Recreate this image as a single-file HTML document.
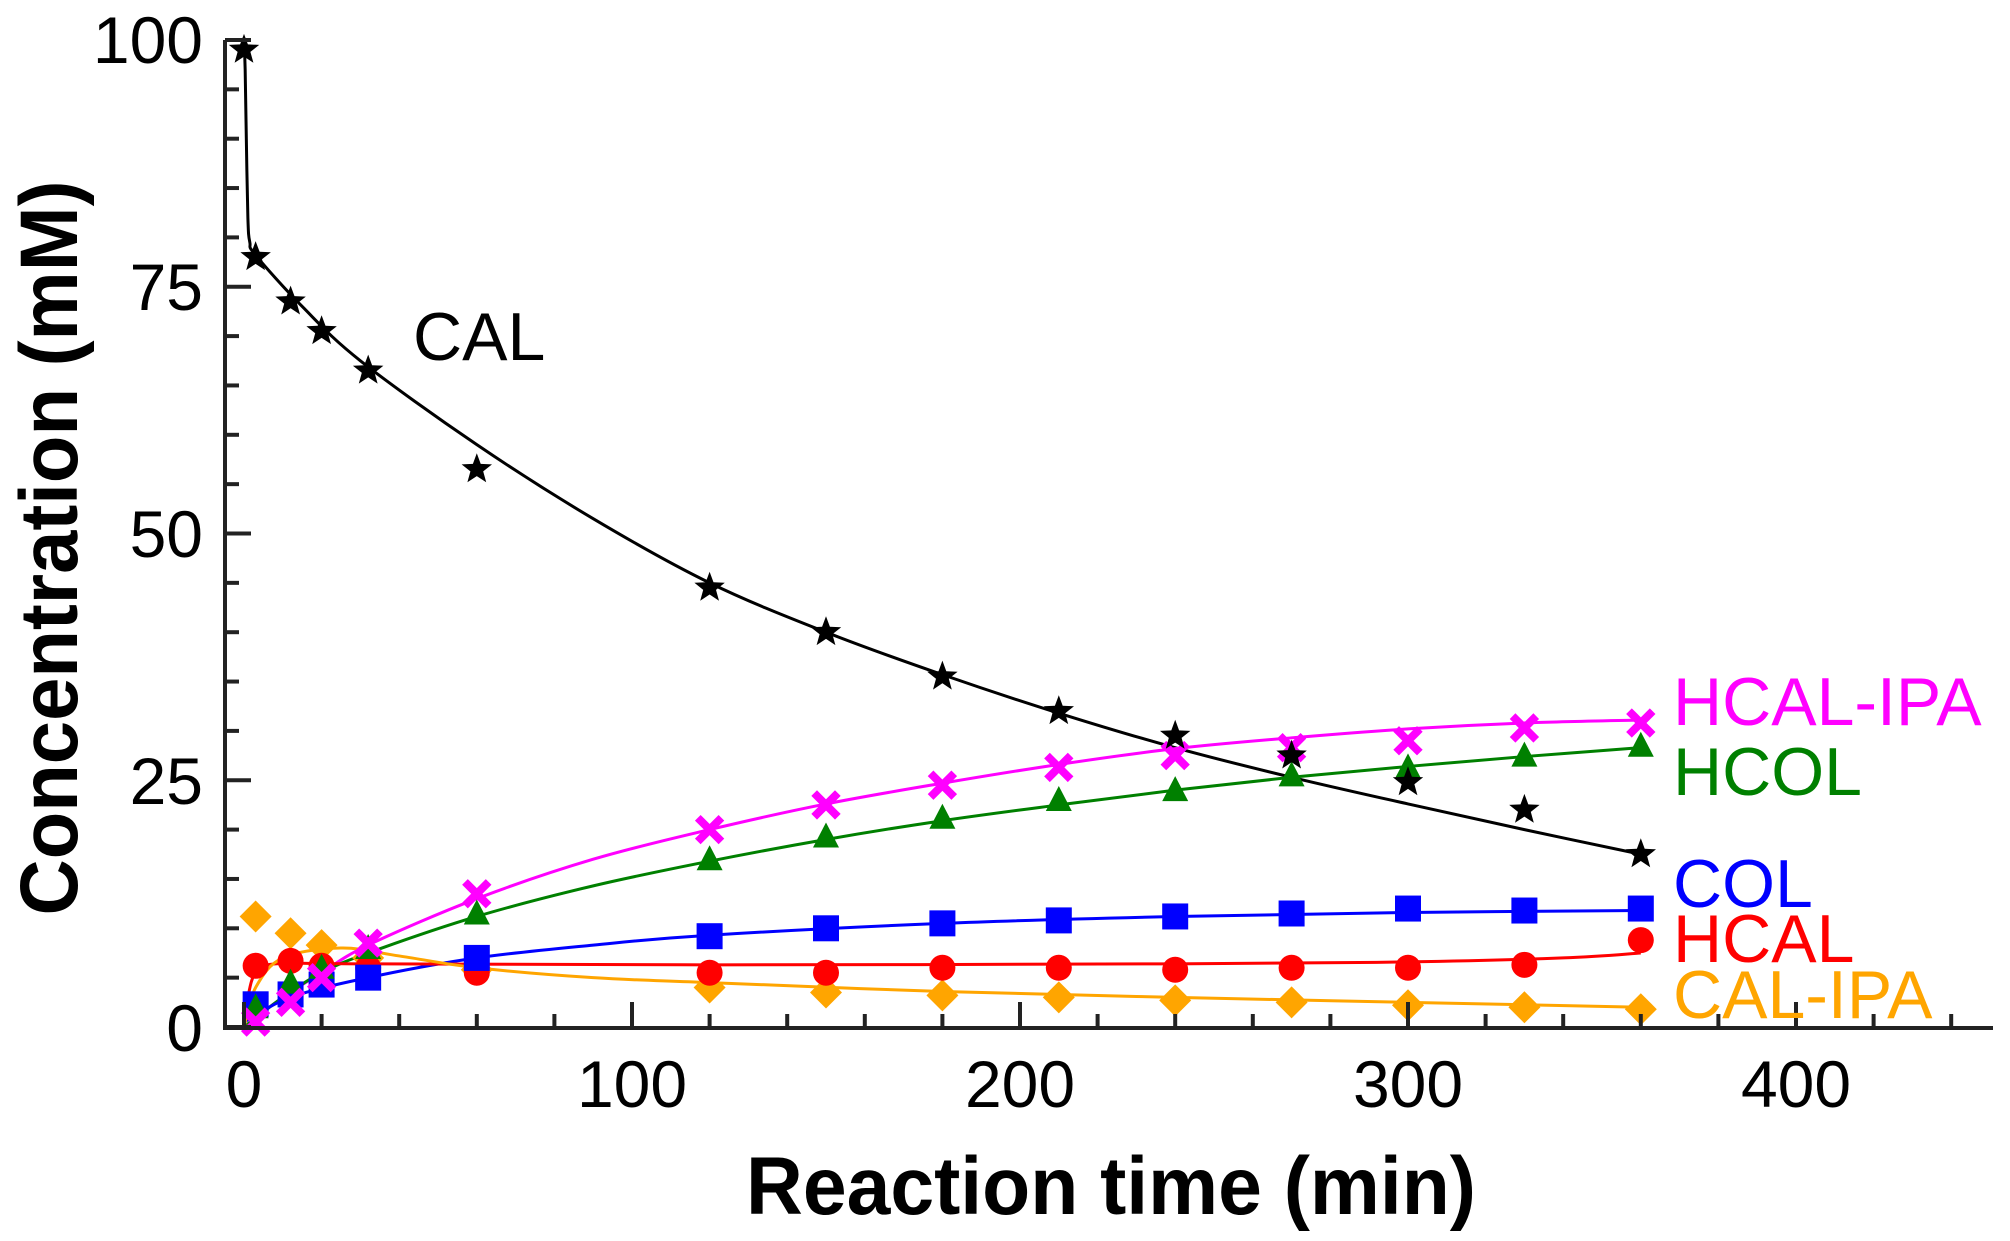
<!DOCTYPE html>
<html><head><meta charset="utf-8"><style>
html,body{margin:0;padding:0;background:#fff;}
svg{display:block;}
</style></head><body>
<svg id="s" width="2010" height="1241" viewBox="0 0 2010 1241" xmlns="http://www.w3.org/2000/svg" font-family="Liberation Sans, Arial, sans-serif">
<g id="curves" fill="none" stroke-width="2.5"></g>
<g id="marks"></g>
<g id="axes" stroke="#222" stroke-width="4" fill="none"></g>
<g font-size="66" fill="#000" text-anchor="end">
<text x="203" y="63">100</text>
<text x="203" y="310">75</text>
<text x="203" y="557">50</text>
<text x="203" y="804">25</text>
<text x="203" y="1051">0</text>
</g>
<g font-size="66" fill="#000" text-anchor="middle">
<text x="244" y="1107">0</text>
<text x="632" y="1107">100</text>
<text x="1020" y="1107">200</text>
<text x="1408" y="1107">300</text>
<text x="1796" y="1107">400</text>
</g>
<text x="1111" y="1214" font-size="82" font-weight="bold" text-anchor="middle" textLength="730" lengthAdjust="spacingAndGlyphs">Reaction time (min)</text>
<text transform="translate(77,548) rotate(-90)" font-size="82" font-weight="bold" text-anchor="middle" textLength="735" lengthAdjust="spacingAndGlyphs">Concentration (mM)</text>
<g font-size="68">
<text x="413" y="360" fill="#000">CAL</text>
<text x="1673" y="725" fill="#ff00ff">HCAL-IPA</text>
<text x="1673" y="795" fill="#008000">HCOL</text>
<text x="1673" y="907" fill="#0000ff">COL</text>
<text x="1673" y="962" fill="#ff0000">HCAL</text>
<text x="1673" y="1018" fill="#ffa500">CAL-IPA</text>
</g>
</svg>
<script>
var NS="http://www.w3.org/2000/svg";
function X(t){return 244+3.88*t;}
function Y(c){return 1027-9.87*c;}
function el(tag,attrs,parent){var e=document.createElementNS(NS,tag);for(var k in attrs)e.setAttribute(k,attrs[k]);parent.appendChild(e);return e;}
var ax=document.getElementById('axes');
el('line',{x1:225,y1:40,x2:225,y2:1029},ax);
el('line',{x1:223,y1:1028,x2:1993,y2:1028},ax);
for(var v=0;v<=100;v+=5){var len=(v%25==0)?26:14;el('line',{x1:225,y1:Y(v),x2:225+len,y2:Y(v)},ax);}
for(var t=0;t<=440;t+=20){var len=(t%100==0)?26:14;el('line',{x1:X(t),y1:1028,x2:X(t),y2:1028-len},ax);}
function smooth(pts){var d="M"+pts[0][0]+","+pts[0][1];for(var i=0;i<pts.length-1;i++){var p0=pts[i-1]||pts[i],p1=pts[i],p2=pts[i+1],p3=pts[i+2]||p2;
var c1=[p1[0]+(p2[0]-p0[0])/6,p1[1]+(p2[1]-p0[1])/6],c2=[p2[0]-(p3[0]-p1[0])/6,p2[1]-(p3[1]-p1[1])/6];
d+=" C"+c1[0]+","+c1[1]+" "+c2[0]+","+c2[1]+" "+p2[0]+","+p2[1];}return d;}
var cg=document.getElementById('curves');
function curve(data,col,w){var pts=data.map(function(p){return [X(p[0]),Y(p[1])];});el('path',{d:smooth(pts),stroke:col,'stroke-width':w||3},cg);}
curve([[0,100],[0.3,97],[0.6,90],[1,82],[1.5,79.5],[3,78.2],[15,73],[30,67.5],[60,59],[90,51.5],[120,45],[150,40],[180,35.7],[210,31.8],[240,28.3],[270,25.3],[300,22.6],[330,20],[360,17.5]],'#000');
curve([[0,0],[10,3],[20,5.5],[32,8.3],[60,13],[90,17],[120,20],[150,22.6],[180,24.7],[210,26.6],[240,28.2],[270,29.3],[300,30.2],[330,30.8],[360,31.1]],'#ff00ff');
curve([[0,0],[10,3],[20,5.5],[32,7.5],[60,11.2],[90,14.3],[120,16.8],[150,19],[180,20.9],[210,22.5],[240,24],[270,25.3],[300,26.4],[330,27.4],[360,28.3]],'#008000');
curve([[0,0.5],[12,3],[32,5],[60,7],[90,8.3],[120,9.3],[180,10.5],[240,11.2],[300,11.6],[360,11.8]],'#0000ff');
curve([[0,0],[1,3],[3,5.5],[8,6.4],[30,6.4],[120,6.3],[240,6.4],[300,6.6],[340,7],[360,7.5]],'#ff0000');
curve([[0,0],[3,4],[10,7],[25,8],[40,7.2],[60,6],[90,5],[120,4.5],[180,3.6],[240,3],[300,2.5],[360,2]],'#ffa500');
var mg=document.getElementById('marks');
function star(x,y,r,col){var p=[];for(var i=0;i<10;i++){var a=-Math.PI/2+i*Math.PI/5,rr=(i%2?r*0.42:r);p.push((x+rr*Math.cos(a)).toFixed(1)+","+(y+rr*Math.sin(a)).toFixed(1));}el('polygon',{points:p.join(" "),fill:col},mg);}
function marker(type,t,c,col){var x=X(t),y=Y(c);
if(type=='star')star(x,y,16,col);
else if(type=='sq')el('rect',{x:x-13,y:y-13,width:26,height:26,fill:col},mg);
else if(type=='ci')el('circle',{cx:x,cy:y,r:13,fill:col},mg);
else if(type=='tri')el('polygon',{points:x+","+(y-14)+" "+(x-13)+","+(y+11)+" "+(x+13)+","+(y+11),fill:col},mg);
else if(type=='dia')el('polygon',{points:x+","+(y-16)+" "+(x+16)+","+y+" "+x+","+(y+16)+" "+(x-16)+","+y,fill:col},mg);
else if(type=='x'){el('path',{d:"M"+(x-9)+","+(y-9)+"L"+(x+9)+","+(y+9)+"M"+(x+9)+","+(y-9)+"L"+(x-9)+","+(y+9),stroke:col,'stroke-width':8,'stroke-linecap':'square'},mg);}}
var T=[3,12,20,32,60,120,150,180,210,240,270,300,330,360];
function series(type,vals,col,ts){(ts||T).forEach(function(t,i){marker(type,t,vals[i],col);});}
series('dia',[11.2,9.5,8.3,7,5.8,4,3.5,3.2,3,2.7,2.5,2.2,2,1.8],'#ffa500');
series('ci',[6.2,6.7,6.2,6,5.5,5.5,5.5,6,6,5.8,6,6,6.3,8.8],'#ff0000');
series('sq',[2.3,3.3,4.3,5,7,9.2,10,10.5,10.8,11.2,11.5,12,11.8,12],'#0000ff');
series('tri',[2,4.5,6,8,11.5,17,19.3,21.2,23,24,25.5,26.3,27.5,28.5],'#008000');
series('x',[0.5,2.5,5,8.5,13.5,20,22.5,24.5,26.3,27.5,28.3,29,30.3,30.8],'#ff00ff');
series('star',[99,78,73.5,70.5,66.5,56.5,44.5,40,35.5,32,29.5,27.5,24.8,22,17.5],'#000',[0].concat(T));
</script>
</body></html>
